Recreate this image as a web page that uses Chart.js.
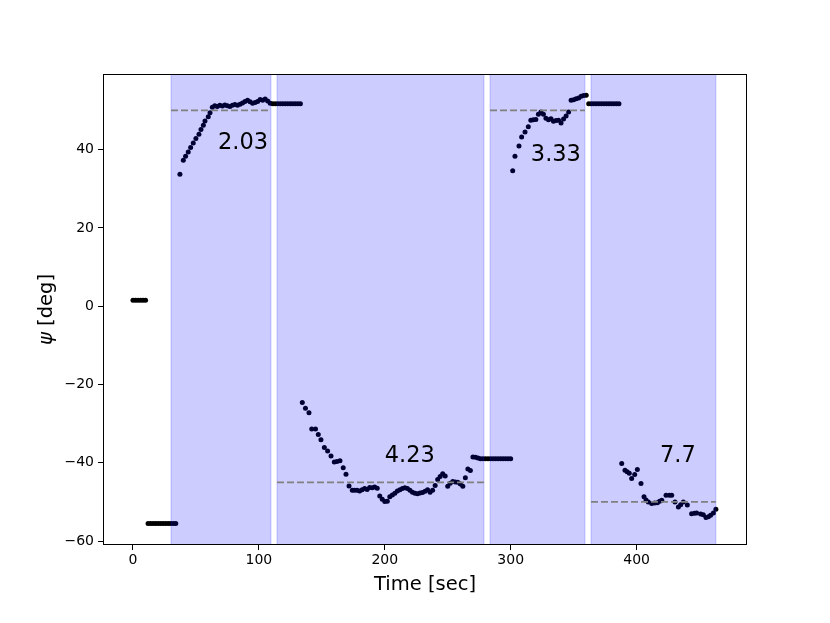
<!DOCTYPE html>
<html><head><meta charset="utf-8">
<script src="https://cdn.jsdelivr.net/npm/chart.js@4.4.0/dist/chart.umd.min.js"></script>
<style>html,body{margin:0;padding:0;background:#fff;}canvas{display:block;}</style>
</head><body>
<canvas id="c" width="830" height="623"></canvas>
<script>
// measured heading samples: time [sec] and psi [deg]
const times = [
  0,2,4,6,8,10,
  12,14,16,18,20,22,24,26,28,30,32,34,
  37.3,40,41.8,43.9,45.8,47.9,50,52.4,54,55.9,57.2,59.8,61.2,
  63,65,67,69,71,73,75,77,79,81,83,85,87,89,91,93,95,97,99,101,103,105,107,109,
  111,113,115,117,119,121,123,125,127,129,131,133,
  134.5,137,139.8,142,145,147.2,149.3,152,154.6,157.3,159.9,162,164.4,167,169.2,171.6,174.2,
  176,178,180,182,184,186,188,190,192,194,196,198,200,202,204,206,208,210,212,214,216,218,220,
  222,224,226,228,230,232,234,236,238,240,242,244,246,248,250,252,254,256,258,260,262,264,266,268,270,272,274,276,
  278,280,282,284,286,288,290,292,294,296,298,300,
  301.6,303.4,306.6,308.7,311.4,314,316,318,320,322,324,326,328,330,332,334,336,338,340,342,344,346,348,350,352,354,356,358,360,
  362,364,366,368,370,372,374,376,378,380,382,384,386,
  388.2,390.8,392.5,394.2,396.1,398.5,400.6,403.5,405.9,407.5,409.3,412,414.3,416.5,418.3,420,423.4,426,427.9,430.5,433.2,435,437.1,440.3,443.7,446,447.7,450.9,453,455.1,457,458.8,461,463
];
const psi = [
  1.5,1.5,1.5,1.5,1.5,1.5,
  -55.5,-55.5,-55.5,-55.5,-55.5,-55.5,-55.5,-55.5,-55.5,-55.5,-55.5,-55.5,
  33.7,37.3,38.3,39.4,40.5,41.7,42.8,43.9,45.1,46.2,47.3,48.4,49.4,
  50.8,51.2,51.0,51.3,51.1,51.4,51.2,51.0,51.3,51.5,51.3,51.6,51.9,52.3,52.6,52.2,51.8,52.0,52.3,52.8,52.6,52.9,52.4,51.8,
  51.7,51.7,51.7,51.7,51.7,51.7,51.7,51.7,51.7,51.7,51.7,51.7,
  -24.6,-26.1,-27.2,-31.4,-31.4,-32.8,-34.1,-36.1,-37.0,-38.3,-39.8,-39.7,-39.5,-41.3,-42.9,-45.9,-47.0,
  -47.0,-47.0,-47.2,-46.9,-46.6,-46.8,-46.3,-46.4,-46.2,-46.5,-48.5,-49.3,-49.9,-49.8,-48.7,-48.2,-47.8,-47.2,-46.9,-46.6,-46.4,-46.6,-47.0,
  -47.5,-47.8,-47.9,-47.7,-47.6,-47.3,-46.9,-47.5,-47.0,-45.8,-44.3,-43.5,-42.8,-43.4,-46.0,-45.2,-44.8,-44.9,-45.0,-45.4,-46.0,-43.8,-41.6,-42.0,-38.5,-38.6,-38.8,-39.0,
  -39.0,-39.0,-39.0,-39.0,-39.0,-39.0,-39.0,-39.0,-39.0,-39.0,-39.0,-39.0,
  34.6,38.3,40.9,43.2,44.5,45.8,47.5,47.6,47.7,49.0,49.6,49.0,48.0,47.6,47.9,47.2,47.4,47.5,46.8,47.8,48.6,49.6,52.6,52.7,53.0,53.2,53.6,53.8,53.9,
  51.7,51.7,51.7,51.7,51.7,51.7,51.7,51.7,51.7,51.7,51.7,51.7,51.7,
  -40.2,-41.9,-42.3,-42.7,-44.0,-43.0,-41.7,-45.3,-48.7,-49.5,-50.0,-50.4,-50.3,-50.2,-49.8,-49.6,-48.3,-48.3,-48.3,-50.0,-51.3,-50.7,-50.0,-50.8,-53.0,-52.9,-52.8,-53.1,-53.3,-54.0,-53.8,-53.4,-52.8,-51.9
];
// control segments (shaded) and target heading
const spanStart = [30.2, 114.4, 283.6, 363.8];
const spanEnd   = [109.6, 278.8, 359, 463];
const targetPsi = [50, -45, 50, -50];
// settling-time annotations
const noteText = ['2.03', '4.23', '3.33', '7.7'];
const noteX = [67.5, 200, 316, 418.6];
const noteY = [40.2, -39.8, 37, -39.8];
// axis ticks
const xTicks = [0, 100, 200, 300, 400];
const yTicks = [-60, -40, -20, 0, 20, 40];

const FONT = "'DejaVu Sans', sans-serif";

const points = times.map((t, i) => ({x: t, y: psi[i]}));
const datasets = [{
  type: 'scatter', data: points, order: 10,
  pointRadius: 2.5, pointHoverRadius: 2.5, pointBackgroundColor: '#000', pointBorderWidth: 0, showLine: false
}];
spanStart.forEach((s, i) => {
  datasets.push({
    type: 'line', order: 1,
    data: [{x: s, y: targetPsi[i]}, {x: spanEnd[i], y: targetPsi[i]}],
    borderColor: 'rgb(128,128,128)', borderWidth: 1.8, borderDash: [7, 3],
    pointRadius: 0, fill: false
  });
});

const spanPlugin = {
  id: 'spans',
  afterDatasetDraw(chart, args) {
    if (args.index !== 0) return;
    const {ctx, chartArea: a, scales: {x}} = chart;
    ctx.save();
    ctx.beginPath(); ctx.rect(a.left, a.top, a.right - a.left, a.bottom - a.top); ctx.clip();
    spanStart.forEach((s, i) => {
      const x0 = x.getPixelForValue(s), x1 = x.getPixelForValue(spanEnd[i]);
      ctx.fillStyle = 'rgba(0,0,255,0.2)';
      ctx.fillRect(x0, a.top, x1 - x0, a.bottom - a.top);
      ctx.strokeStyle = 'rgba(0,0,255,0.2)';
      ctx.lineWidth = 1;
      ctx.strokeRect(x0, a.top, x1 - x0, a.bottom - a.top);
    });
    ctx.restore();
  },
  afterDraw(chart) {
    const {ctx, chartArea: a, scales: {x, y}} = chart;
    ctx.save();
    ctx.fillStyle = '#000';
    ctx.font = '22.5px ' + FONT;
    ctx.textAlign = 'left'; ctx.textBaseline = 'alphabetic';
    noteText.forEach((t, i) => ctx.fillText(t, x.getPixelForValue(noteX[i]), y.getPixelForValue(noteY[i])));
    // axes frame
    ctx.strokeStyle = '#000'; ctx.lineWidth = 1;
    ctx.strokeRect(Math.round(a.left) + 0.5, Math.round(a.top) + 0.5, Math.round(a.right - a.left) - 1, Math.round(a.bottom - a.top) - 1);
    // y axis title with italic psi
    ctx.translate(51.5, (a.top + a.bottom) / 2);
    ctx.rotate(-Math.PI / 2);
    ctx.font = 'italic 19.5px ' + FONT;
    const w1 = ctx.measureText('ψ').width;
    ctx.font = '19.5px ' + FONT;
    const w2 = ctx.measureText(' [deg]').width;
    const start = -(w1 + w2) / 2;
    ctx.textAlign = 'left';
    ctx.font = 'italic 19.5px ' + FONT;
    ctx.fillText('ψ', start, 0);
    ctx.font = '19.5px ' + FONT;
    ctx.fillText(' [deg]', start + w1, 0);
    ctx.restore();
  }
};

new Chart(document.getElementById('c'), {
  data: {datasets},
  options: {
    responsive: false, animation: false,
    layout: {padding: {left: 0, right: 83, top: 74, bottom: 0}},
    plugins: {legend: {display: false}, tooltip: {enabled: false}},
    scales: {
      x: {
        type: 'linear', min: -23.8, max: 487.7,
        afterFit(s) { s.height = 78; },
        afterBuildTicks(s) { s.ticks = xTicks.map(v => ({value: v})); },
        grid: {drawOnChartArea: false, tickLength: 5, color: '#000', tickWidth: 1},
        border: {display: false},
        ticks: {color: '#000', font: {family: FONT, size: 14}, padding: 2, maxRotation: 0,
                callback: v => String(v).replace('-', '\u2212')},
        title: {display: true, text: 'Time [sec]', color: '#000', font: {family: FONT, size: 19.5}, padding: {top: 0, bottom: 26}}
      },
      y: {
        type: 'linear', min: -61, max: 59.3,
        afterFit(s) { s.width = 103; },
        afterBuildTicks(s) { s.ticks = yTicks.map(v => ({value: v})); },
        grid: {drawOnChartArea: false, tickLength: 5, color: '#000', tickWidth: 1},
        border: {display: false},
        ticks: {color: '#000', font: {family: FONT, size: 14}, padding: 4,
                callback: v => String(v).replace('-', '\u2212')}
      }
    }
  },
  plugins: [spanPlugin]
});
</script>
</body></html>
